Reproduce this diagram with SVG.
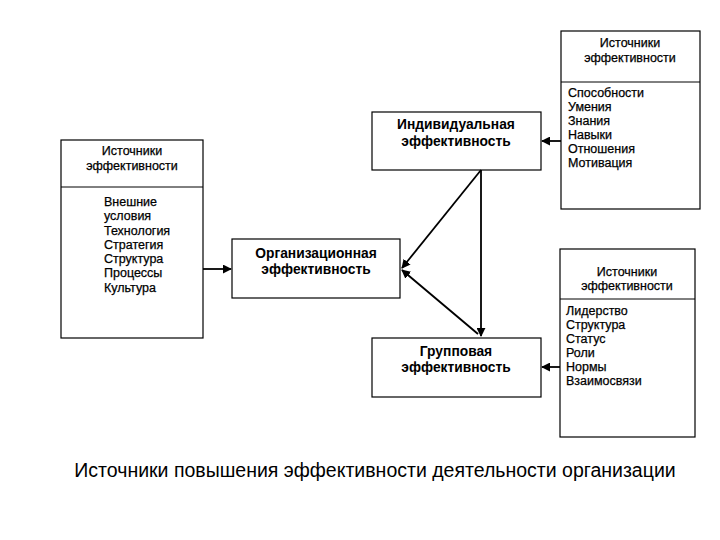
<svg xmlns="http://www.w3.org/2000/svg" width="720" height="540" viewBox="0 0 720 540">
<style>
.box{fill:#fff;stroke:#000;stroke-width:1.2}
.div{stroke:#000;stroke-width:1}
.t{font-family:"Liberation Sans",Arial,sans-serif;font-size:12.5px;fill:#000;stroke:#000;stroke-width:0.25}
.c{text-anchor:middle}
.m{font-family:"Liberation Sans",Arial,sans-serif;font-size:13.8px;font-weight:bold;fill:#000;text-anchor:middle}
.cap{font-family:"Liberation Sans",Arial,sans-serif;font-size:19.5px;fill:#000;text-anchor:middle}
.con{stroke:#000;stroke-width:1.8;fill:none;marker-end:url(#ah)}
</style>
<defs>
<marker id="ah" viewBox="0 0 10 10" refX="9" refY="5" markerWidth="5" markerHeight="5" orient="auto" markerUnits="strokeWidth">
<path d="M0,0 L10,5 L0,10 z" fill="#000"/>
</marker>
</defs>
<rect width="720" height="540" fill="#fff"/>
<g id="sources-individual">
<rect class="box" x="561" y="31" width="139" height="178"/>
<line class="div" x1="561" y1="82" x2="700" y2="82"/>
<text class="t c" x="630" y="47">Источники</text>
<text class="t c" x="630" y="62">эффективности</text>
<text class="t" x="568" y="97">Способности</text>
<text class="t" x="568" y="111">Умения</text>
<text class="t" x="568" y="125">Знания</text>
<text class="t" x="568" y="139">Навыки</text>
<text class="t" x="568" y="153">Отношения</text>
<text class="t" x="568" y="167">Мотивация</text>
</g>
<g id="sources-organizational">
<rect class="box" x="61" y="140" width="142" height="198"/>
<line class="div" x1="61" y1="187" x2="203" y2="187"/>
<text class="t c" x="132" y="155">Источники</text>
<text class="t c" x="132" y="170">эффективности</text>
<text class="t" x="104" y="206">Внешние</text>
<text class="t" x="104" y="220">условия</text>
<text class="t" x="104" y="235">Технология</text>
<text class="t" x="104" y="249">Стратегия</text>
<text class="t" x="104" y="263">Структура</text>
<text class="t" x="104" y="277">Процессы</text>
<text class="t" x="104" y="292">Культура</text>
</g>
<g id="sources-group">
<rect class="box" x="560" y="249" width="135" height="188"/>
<line class="div" x1="560" y1="299" x2="695" y2="299"/>
<text class="t c" x="627" y="276">Источники</text>
<text class="t c" x="627" y="290">эффективности</text>
<text class="t" x="566" y="315">Лидерство</text>
<text class="t" x="566" y="329">Структура</text>
<text class="t" x="566" y="343">Статус</text>
<text class="t" x="566" y="357">Роли</text>
<text class="t" x="566" y="371">Нормы</text>
<text class="t" x="566" y="385">Взаимосвязи</text>
</g>
<g id="individual">
<rect class="box" x="372" y="112" width="169" height="58"/>
<text class="m" x="456" y="129">Индивидуальная</text>
<text class="m" x="456" y="146">эффективность</text>
</g>
<g id="organizational">
<rect class="box" x="232" y="239" width="168" height="59"/>
<text class="m" x="316" y="258">Организационная</text>
<text class="m" x="316" y="274">эффективность</text>
</g>
<g id="group">
<rect class="box" x="372" y="338" width="169" height="59"/>
<text class="m" x="456" y="356">Групповая</text>
<text class="m" x="456" y="372">эффективность</text>
</g>
<g id="connectors">
<line class="con" x1="561" y1="141" x2="542" y2="141"/>
<line class="con" x1="560" y1="367" x2="542" y2="367"/>
<line class="con" x1="203" y1="269" x2="231" y2="269"/>
<line class="con" x1="481" y1="170" x2="481" y2="336"/>
<line class="con" x1="481" y1="170" x2="402" y2="268"/>
<line class="con" x1="478" y1="334" x2="402" y2="270"/>
</g>
<text class="cap" x="375" y="477">Источники повышения эффективности деятельности организации</text>
</svg>
